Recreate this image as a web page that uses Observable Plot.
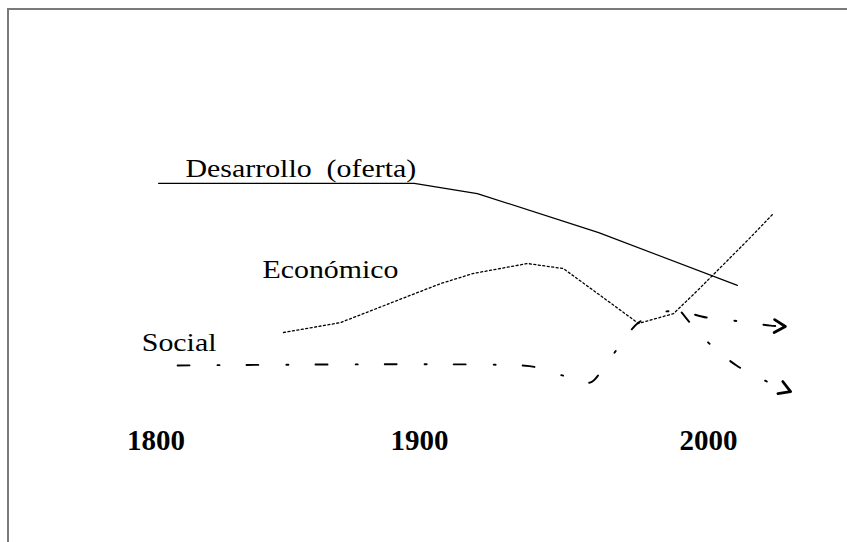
<!DOCTYPE html>
<html>
<head>
<meta charset="utf-8">
<script src="https://cdn.jsdelivr.net/npm/d3@7"></script>
<script src="https://cdn.jsdelivr.net/npm/@observablehq/plot@0.6"></script>
<style>
html, body { margin: 0; padding: 0; background: #fff; }
#wrap { position: relative; width: 847px; height: 542px; overflow: hidden; }
#frame { position: absolute; left: 7px; top: 8px; width: 900px; height: 600px;
  border-left: 2px solid #7a7a7a; border-top: 2px solid #7a7a7a; }
#chart { position: absolute; left: 0; top: 0; }
</style>
</head>
<body>
<div id="wrap"><div id="frame"></div><div id="chart"></div></div>
<script>
// ---- data (years on x, relative level on y) ----
const yearTicks = [1800, 1900, 2000];

const desarrolloYears  = [1801, 1898, 1920, 1962, 2010];
const desarrolloLevels = [85.7, 85.7, 82.3, 69.3, 51.7];

const economicoYears  = [1848.4, 1870, 1895.4, 1907.3, 1918.7, 1937.4, 1949.8, 1960.2, 1975.8, 1987.9, 1996.2, 2013.5, 2022.1];
const economicoLevels = [36, 39.3, 48, 52.3, 55.7, 59, 57.3, 50, 39, 42.3, 50, 66.7, 75.3];

const socialYears  = [1808.2, 1935.6, 1940.8, 1949.4, 1959.0, 1962.6, 1967.8, 1975.8, 1983.4, 1990.3, 1999.3, 2008.3, 2021.5, 2026.6];
const socialLevels = [25, 25, 24.3, 21.7, 19.3, 22.7, 29.7, 39.3, 42.7, 43, 41, 40, 38.3, 38];

const socialBranchYears  = [1990.7, 1993.8, 2000.3, 2009.7, 2020.1, 2028.4];
const socialBranchLevels = [42.7, 39, 32.3, 25, 19.7, 16.3];

const labelTexts  = ["Desarrollo\u00a0 (oferta)", "Económico", "Social"];
const labelYears  = [1811.2, 1840.4, 1794.6];
const labelLevels = [87.7, 54.3, 30];

// ---- build tables ----
const toRows = (xs, ys) => xs.map((x, i) => ({year: x, level: ys[i]}));
const desarrollo = toRows(desarrolloYears, desarrolloLevels);
const economico = toRows(economicoYears, economicoLevels);
const social = toRows(socialYears, socialLevels);
const socialBranch = toRows(socialBranchYears, socialBranchLevels);
const labels = labelTexts.map((t, i) => ({text: t, year: labelYears[i], level: labelLevels[i]}));

function chevron(color, context) {
  const doc = (context && context.document) || document;
  const ns = "http://www.w3.org/2000/svg";
  const m = doc.createElementNS(ns, "marker");
  m.setAttribute("viewBox", "-16 -10 22 20");
  m.setAttribute("markerWidth", "22");
  m.setAttribute("markerHeight", "20");
  m.setAttribute("markerUnits", "userSpaceOnUse");
  m.setAttribute("orient", "auto");
  m.setAttribute("refX", "0");
  m.setAttribute("refY", "0");
  m.setAttribute("overflow", "visible");
  const p = doc.createElementNS(ns, "path");
  p.setAttribute("d", "M-11,-6.5L0,0L-11,6.5");
  p.setAttribute("fill", "none");
  p.setAttribute("stroke", color);
  p.setAttribute("stroke-width", "2.8");
  p.setAttribute("stroke-dasharray", "none");
  m.appendChild(p);
  return m;
}

const socialDash = "12,28,2,27";

const chart = Plot.plot({
  width: 847,
  height: 542,
  marginTop: 0,
  marginLeft: 0,
  marginRight: 0,
  marginBottom: 113,
  style: {
    fontFamily: "'Liberation Serif', 'Times New Roman', serif",
    background: "transparent",
    overflow: "visible",
    color: "#000"
  },
  x: {type: "linear", domain: yearTicks, range: [155.5, 419, 708]},
  y: {domain: [0, 100], range: [440, 140], axis: null},
  marks: [
    Plot.axisX({
      ticks: yearTicks,
      tickSize: 0,
      tickPadding: 0,
      tickFormat: d => String(d),
      fontSize: 29,
      fontWeight: "bold",
      label: null
    }),
    Plot.line(desarrollo, {x: "year", y: "level", stroke: "#000", strokeWidth: 1.2}),
    Plot.line(economico, {x: "year", y: "level", stroke: "#000", strokeWidth: 1.3, strokeDasharray: "2,2.5"}),
    Plot.line(social, {x: "year", y: "level", stroke: "#000", strokeWidth: 1.9, strokeDasharray: socialDash, curve: "catmull-rom", markerEnd: chevron}),
    Plot.line(socialBranch, {x: "year", y: "level", stroke: "#000", strokeWidth: 1.9, strokeDasharray: socialDash, curve: "catmull-rom", markerEnd: chevron}),
    Plot.text(labels, {x: "year", y: "level", text: "text", textAnchor: "start", lineAnchor: "bottom", fontSize: 26, fill: "#000"})
  ]
});
// the reference's serif labels are drawn slightly wide: stretch them horizontally
chart.querySelectorAll('g[aria-label="text"] text').forEach(t => {
  const tr = t.getAttribute("transform") || "";
  t.setAttribute("transform", tr + " scale(1.15,1)");
});
document.getElementById("chart").appendChild(chart);
</script>
</body>
</html>
